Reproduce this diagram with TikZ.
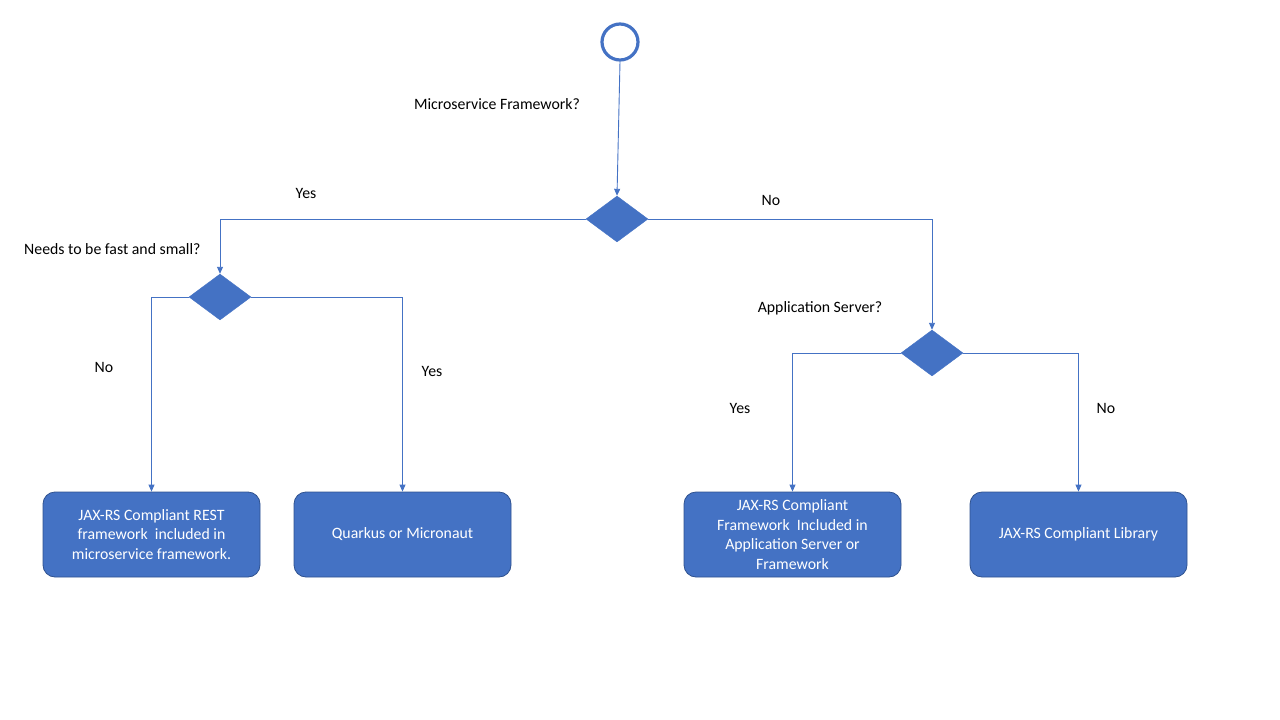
\documentclass[tikz,border=0pt]{standalone}
\usepackage{fontspec}
\setmainfont{Carlito}
\usetikzlibrary{shapes.geometric,arrows.meta}
\definecolor{msblue}{HTML}{4472C4}
\definecolor{msdark}{HTML}{2F528F}
\tikzset{
  decision/.style={diamond, fill=msblue, draw=msblue, inner sep=0pt, minimum width=62pt, minimum height=46pt},
  outcome/.style={rectangle, rounded corners=12pt, fill=msblue, draw=msdark, line width=0.8pt, minimum width=217pt, minimum height=85pt, text=white, align=center, font=\fontsize{15.8}{19.6}\selectfont},
  startnode/.style={circle, draw=msblue, line width=3.2pt, fill=white, minimum size=36pt, inner sep=0pt},
  conn/.style={draw=msblue, line width=0.9pt, -{Triangle[length=7pt,width=6pt]}},
  lbl/.style={font=\fontsize{15.8}{18}\selectfont, text=black, inner sep=0pt}
}
\begin{document}
\begin{tikzpicture}[x=1pt,y=-1pt]
\useasboundingbox (0,0) rectangle (1280,720);
\node[startnode] (start) at (620,42) {};
\node[decision] (d1) at (617,219) {};
\node[decision] (d2) at (220,297) {};
\node[decision] (d3) at (932,353) {};
\node[outcome] (b1) at (151.5,534.5) {JAX-RS Compliant REST\\framework\ \ included in\\microservice framework.};
\node[outcome] (b2) at (402.5,534.5) {Quarkus or Micronaut};
\node[outcome] (b3) at (792.5,534.5) {JAX-RS Compliant\\Framework\ \ Included in\\Application Server or\\Framework};
\node[outcome] (b4) at (1078.5,534.5) {JAX-RS Compliant Library};

\draw[conn] (start.south) -- (d1.north);
\draw[conn] (d1.west) -| (d2.north);
\draw[conn] (d1.east) -| (d3.north);
\draw[conn] (d2.west) -| (b1.north);
\draw[conn] (d2.east) -| (b2.north);
\draw[conn] (d3.west) -| (b3.north);
\draw[conn] (d3.east) -| (b4.north);

\node[lbl] (q1) at (497,104) {Microservice Framework?};
\node[lbl] (y1) at (306,193) {Yes};
\node[lbl] (n1) at (771,200) {No};
\node[lbl, anchor=west] (q2) at (24,249) {Needs to be fast and small?};
\node[lbl] (q3) at (820,308) {Application Server?};
\node[lbl] (n2) at (104,367) {No};
\node[lbl] (y2) at (432,371) {Yes};
\node[lbl] (y3) at (740,408) {Yes};
\node[lbl] (n3) at (1106,408) {No};
\end{tikzpicture}
\end{document}
